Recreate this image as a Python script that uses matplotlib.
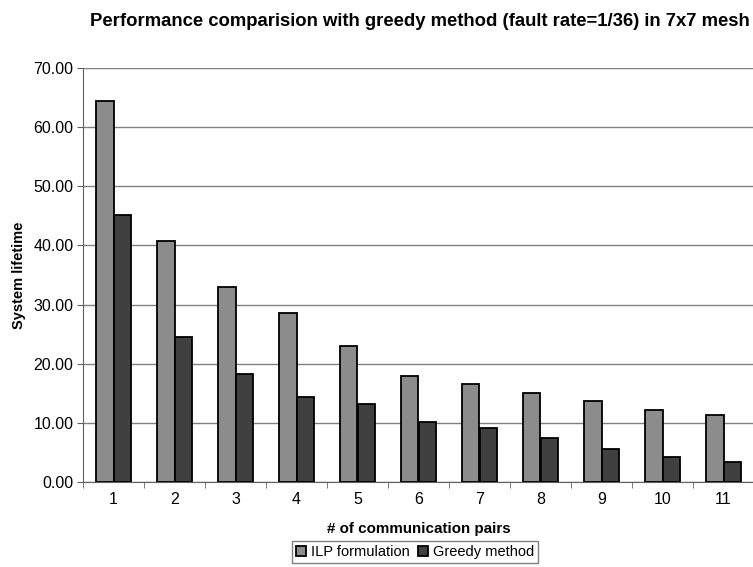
import matplotlib
matplotlib.use("Agg")
import matplotlib.pyplot as plt
import numpy as np

plt.rcParams['font.family'] = ['Liberation Sans', 'DejaVu Sans']

# System lifetime per number of communication pairs
pairs = [1, 2, 3, 4, 5, 6, 7, 8, 9, 10, 11]
ilp_lifetime = [64.5, 40.8, 33.0, 28.6, 23.0, 17.9, 16.6, 15.1, 13.7, 12.1, 11.3]
greedy_lifetime = [45.2, 24.6, 18.3, 14.3, 13.15, 10.1, 9.2, 7.5, 5.5, 4.3, 3.4]
series_labels = ['ILP formulation', 'Greedy method']

fig = plt.figure(figsize=(7.53, 5.67), dpi=100)
ax = fig.add_axes([83 / 753, 1 - 482 / 567, 671 / 753, 414 / 567])

x = np.arange(len(pairs)) + 1
width = 1 / 3.5

ax.bar(x - width / 2, ilp_lifetime, width, color='#8c8c8c', edgecolor='black',
       linewidth=1.3, label=series_labels[0], zorder=3)
ax.bar(x + width / 2, greedy_lifetime, width, color='#404040', edgecolor='black',
       linewidth=1.3, label=series_labels[1], zorder=3)

ax.set_ylim(0, 70)
ax.set_xlim(0.5, 0.5 + 671 / 61)
ax.set_yticks(np.arange(0, 71, 10))
ax.set_yticklabels([f'{v:.2f}' for v in np.arange(0, 71, 10)], fontsize=11.5)
ax.yaxis.grid(True, color='#808080', linewidth=1, zorder=0)

# category labels centred, tick marks between categories
ax.set_xticks(x)
ax.set_xticklabels([str(p) for p in pairs], fontsize=11.5)
ax.tick_params(axis='x', length=0, pad=7)
ax.set_xticks(np.arange(0.5, len(pairs) + 1, 1), minor=True)
ax.tick_params(axis='x', which='minor', length=4, color='#606060', direction='out')
ax.tick_params(axis='y', length=4, color='#606060', direction='out', pad=3)

for side in ['top', 'right']:
    ax.spines[side].set_visible(False)
ax.spines['left'].set_color('#606060')
ax.spines['bottom'].set_color('#606060')

ax.set_ylabel('System lifetime', fontsize=10.5, fontweight='bold', labelpad=5)
ax.set_xlabel('# of communication pairs', fontsize=10.9, fontweight='bold', labelpad=11)

fig.text(0.558, 0.962, 'Performance comparision with greedy method (fault rate=1/36) in 7x7 mesh',
         ha='center', va='center', fontsize=13.3, fontweight='bold')

leg = fig.legend(loc='center', bbox_to_anchor=(0.551, 1 - 552 / 567), ncol=2,
                 fontsize=10.5, frameon=True, fancybox=False, edgecolor='#606060',
                 handlelength=0.7, handleheight=0.7, handletextpad=0.3,
                 columnspacing=0.6, borderpad=0.25, borderaxespad=0)
leg.get_frame().set_linewidth(1)

fig.savefig('out.png', dpi=100)
